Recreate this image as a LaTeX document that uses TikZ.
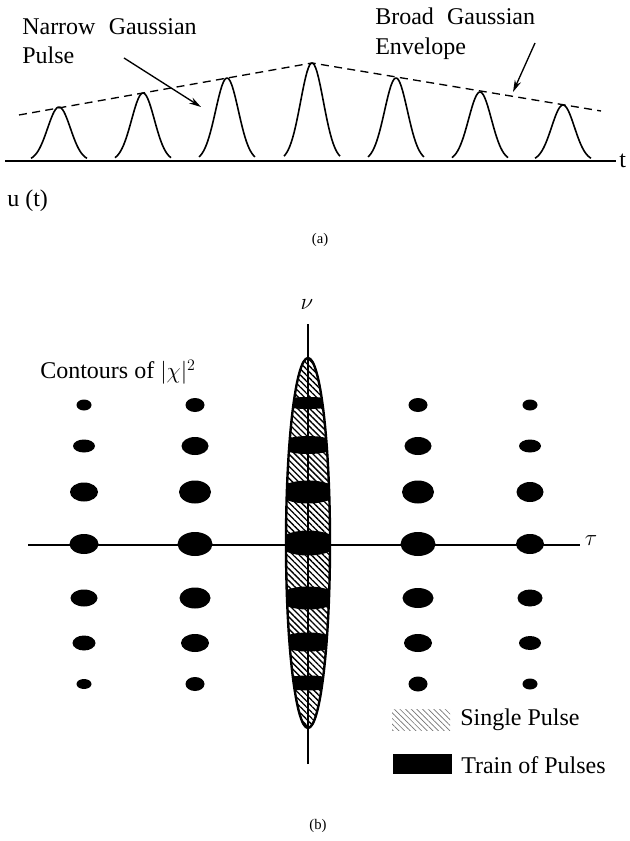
\documentclass[tikz,border=0pt]{standalone}
\usepackage{amsmath}
\usepackage{fontspec}
\setmainfont{Liberation Serif}
\usetikzlibrary{arrows.meta,patterns.meta}

\tikzset{
  curve/.style={line width=1.2pt},
  envelope/.style={line width=1pt, dash pattern=on 6pt off 4pt},
  pointer/.style={line width=1pt, -{Stealth[length=9pt,width=5pt]}},
  axisline/.style={line width=1.2pt},
  spot/.style={fill=black},
  txt/.style={inner sep=0pt, font=\fontsize{18}{22}\selectfont},
  tagtext/.style={inner sep=0pt, font=\fontsize{11}{13}\selectfont},
  greek/.style={inner sep=0pt, font=\fontsize{16}{18}\selectfont},
  hatch/.style={pattern={Lines[angle=-45,distance=3.2pt,line width=1pt]}},
  hatchkey/.style={pattern={Lines[angle=-45,distance=3pt,line width=0.5pt]}, pattern color=black!55},
}

\begin{document}
\begin{tikzpicture}[x=0.75pt,y=0.75pt,yscale=-1,xscale=1]
\useasboundingbox (0,0) rectangle (630,841);

%%%%%%%%%% (a) pulse train

%Straight Lines: time axis
\coordinate (t0) at (5,161);
\coordinate (t1) at (616,161);
\draw [curve] (t0) -- (t1);

%Shape: Pulses
\draw [curve] plot [domain=31:87, samples=40] (\x, {161-54*exp(-((\x-59)*(\x-59))/260)});
\draw [curve] plot [domain=115:171, samples=40] (\x, {161-68*exp(-((\x-143)*(\x-143))/260)});
\draw [curve] plot [domain=199:255, samples=40] (\x, {161-83*exp(-((\x-227)*(\x-227))/260)});
\draw [curve] plot [domain=284:340, samples=40] (\x, {161-98*exp(-((\x-312)*(\x-312))/260)});
\draw [curve] plot [domain=368:424, samples=40] (\x, {161-83*exp(-((\x-396)*(\x-396))/260)});
\draw [curve] plot [domain=452:508, samples=40] (\x, {161-69*exp(-((\x-480)*(\x-480))/260)});
\draw [curve] plot [domain=535:591, samples=40] (\x, {161-56*exp(-((\x-563)*(\x-563))/260)});

%Straight Lines: envelope
\coordinate (e0) at (19,115);
\coordinate (e1) at (312,63);
\coordinate (e2) at (601,111);
\draw [envelope] (e0) -- (e1) -- (e2);

% Text Node
\node (narrow) [txt, anchor=north west, align=left] at (22,18) {Narrow\hspace{0.55em}Gaussian\\Pulse};
\coordinate (narrowtail) at (124,58);
\coordinate (narrowtip) at (201,107);
\draw [pointer] (narrowtail) -- (narrowtip);

% Text Node
\node (broad) [txt, anchor=north west, align=left] at (375,8) {Broad\hspace{0.55em}Gaussian\\Envelope};
\coordinate (broadtail) at (535,43);
\coordinate (broadtip) at (513,92);
\draw [pointer] (broadtail) -- (broadtip);

% Text Node
\node (tlab) [txt, anchor=west] at (619,161) {t};
% Text Node
\node (ut) [txt, anchor=west] at (7,201) {u (t)};
% Text Node
\node (capa) [tagtext] at (320,240) {(a)};

%%%%%%%%%% (b) ambiguity contours

%Shape: Ellipse (single pulse)
\fill [hatch] (308,543) ellipse [x radius=22, y radius=185];

%Straight Lines: axes
\coordinate (nu0) at (308,764);
\coordinate (nu1) at (308,324);
\draw [axisline] (nu0) -- (nu1);
\coordinate (tau0) at (28,545);
\coordinate (tau1) at (580,545);
\draw [axisline] (tau0) -- (tau1);

% Text Node
\node (nulab) [greek] at (307,305) {$\nu$};
% Text Node
\node (taulab) [greek] at (591,541) {$\tau$};

%Shape: Ellipse (column 1)
\fill [spot] (84,405) ellipse [x radius=7.5, y radius=5.5];
\fill [spot] (84,446) ellipse [x radius=11, y radius=6.5];
\fill [spot] (84,492) ellipse [x radius=14, y radius=9.5];
\fill [spot] (84,544) ellipse [x radius=14.5, y radius=10];
\fill [spot] (84,598) ellipse [x radius=13.5, y radius=8.5];
\fill [spot] (84,643) ellipse [x radius=11.5, y radius=7.5];
\fill [spot] (84,684) ellipse [x radius=7.5, y radius=5];
%Shape: Ellipse (column 2)
\fill [spot] (195,405) ellipse [x radius=9.5, y radius=7];
\fill [spot] (195,446) ellipse [x radius=13.5, y radius=9];
\fill [spot] (195,492) ellipse [x radius=16, y radius=11.5];
\fill [spot] (195,544) ellipse [x radius=17.5, y radius=12];
\fill [spot] (195,598) ellipse [x radius=15.5, y radius=10.5];
\fill [spot] (195,643) ellipse [x radius=14, y radius=9];
\fill [spot] (195,684) ellipse [x radius=9.5, y radius=7];
%Shape: Ellipse (column 4)
\fill [spot] (418,405) ellipse [x radius=9.5, y radius=7];
\fill [spot] (418,446) ellipse [x radius=13.5, y radius=9];
\fill [spot] (418,492) ellipse [x radius=16, y radius=11.5];
\fill [spot] (418,544) ellipse [x radius=17.5, y radius=12];
\fill [spot] (418,598) ellipse [x radius=15.5, y radius=10];
\fill [spot] (418,643) ellipse [x radius=14, y radius=9];
\fill [spot] (418,684) ellipse [x radius=9.5, y radius=7.5];
%Shape: Ellipse (column 5)
\fill [spot] (530,405) ellipse [x radius=7.5, y radius=5.5];
\fill [spot] (530,446) ellipse [x radius=11, y radius=6.5];
\fill [spot] (530,492) ellipse [x radius=13.5, y radius=10];
\fill [spot] (530,544) ellipse [x radius=14, y radius=10];
\fill [spot] (530,598) ellipse [x radius=12.5, y radius=8.5];
\fill [spot] (530,643) ellipse [x radius=11, y radius=7];
\fill [spot] (530,684) ellipse [x radius=7.5, y radius=5.5];

%Shape: Ellipse (centre column, inside single pulse)
\begin{scope}
\clip (308,543) ellipse [x radius=22, y radius=185];
\fill [spot] (308,403) ellipse [x radius=30, y radius=6];
\fill [spot] (308,445) ellipse [x radius=30, y radius=9];
\fill [spot] (308,492) ellipse [x radius=30, y radius=11.5];
\fill [spot] (308,543) ellipse [x radius=30, y radius=12.5];
\fill [spot] (308,598) ellipse [x radius=30, y radius=11.5];
\fill [spot] (308,642) ellipse [x radius=30, y radius=9.5];
\fill [spot] (308,683) ellipse [x radius=30, y radius=7.5];
\end{scope}
\draw [line width=1.8pt] (308,543) ellipse [x radius=22, y radius=185];

% Text Node
\node (contours) [txt, anchor=west] at (40,372) {Contours of $|\chi|^{2}$};

%Shape: Legend keys
\fill [hatchkey] (392,709) rectangle (450,730);
\fill [spot] (393,754) rectangle (452,774);
% Text Node
\node (single) [txt, anchor=west] at (460,720) {Single Pulse};
% Text Node
\node (train) [txt, anchor=west] at (461,765) {Train of Pulses};
% Text Node
\node (capb) [tagtext] at (318,826) {(b)};

\end{tikzpicture}
\end{document}
